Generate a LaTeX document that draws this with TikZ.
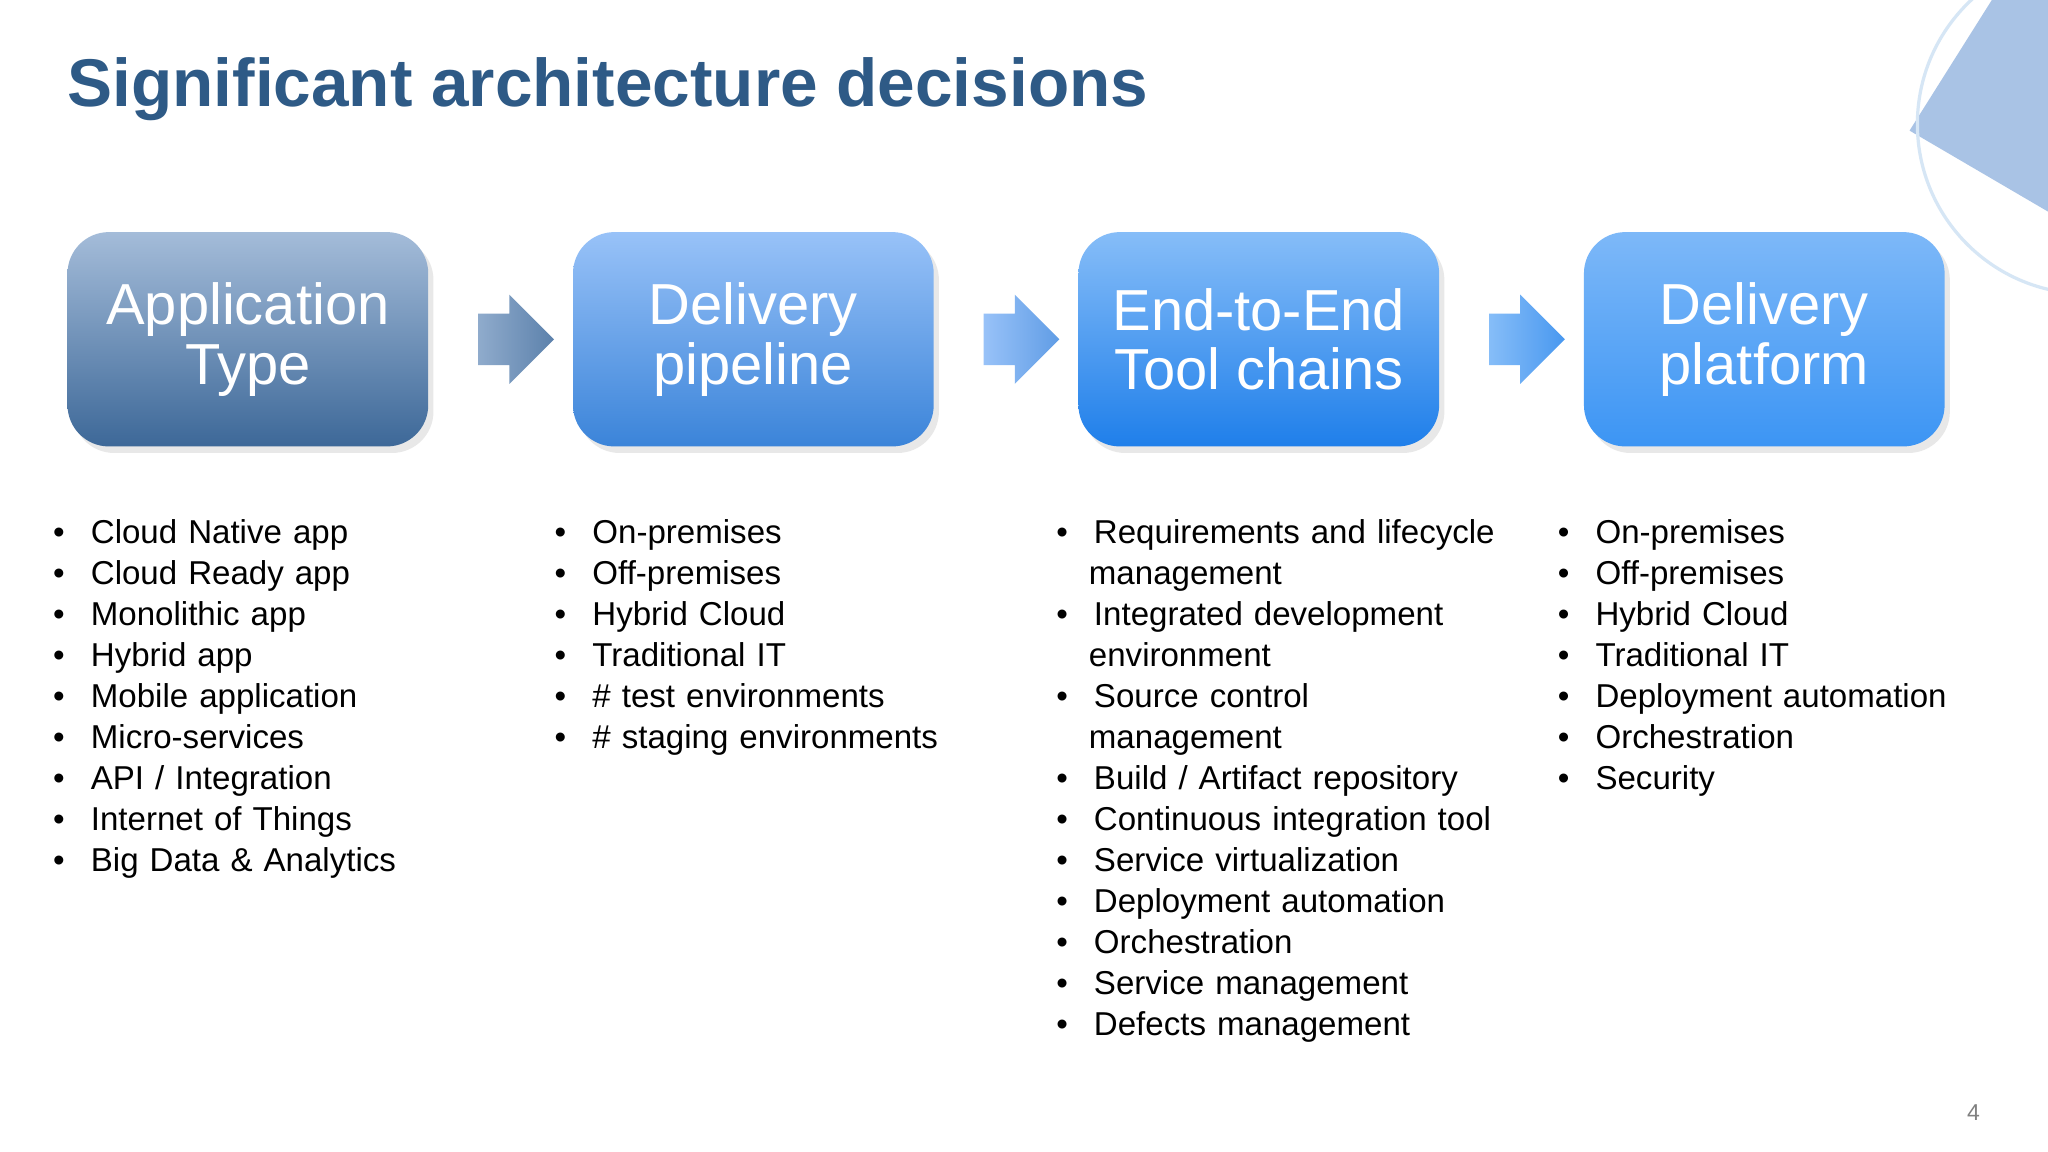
\documentclass[tikz,border=0pt]{standalone}
\usepackage{fontspec}
\setmainfont{Liberation Sans}
\usetikzlibrary{shapes.arrows,shadows}
\definecolor{titleblue}{HTML}{2E5A86}
\definecolor{aT}{HTML}{A4BCD9}\definecolor{aB}{HTML}{3D6898}
\definecolor{bT}{HTML}{98C2F8}\definecolor{bB}{HTML}{3B84D9}
\definecolor{cT}{HTML}{86BDF8}\definecolor{cB}{HTML}{1F7FEA}
\definecolor{dT}{HTML}{7DB8F8}\definecolor{dB}{HTML}{3C95F4}
\definecolor{triC}{HTML}{A9C3E5}\definecolor{cirC}{HTML}{D6E6F5}
\tikzset{
  box/.style={rounded corners=9pt,minimum width=2.76cm,minimum height=1.64cm,anchor=north west,text=white,align=center,font=\fontsize{12.6}{13}\selectfont,inner sep=0pt,drop shadow={opacity=0.18,shadow xshift=0.04cm,shadow yshift=-0.05cm}},
  arr/.style={single arrow,minimum height=0.58cm,inner xsep=0pt,inner ysep=0.19cm,single arrow head extend=0.145cm,single arrow head indent=0pt,anchor=center},
  lst/.style={anchor=north west,inner sep=0pt,font=\fontsize{7.2}{8.93}\selectfont,align=left,text width=#1},
}
\newcommand{\bl}{\item}
\begin{document}
\begin{tikzpicture}[x=0.01cm,y=-0.01cm]
\useasboundingbox (0,0) rectangle (1568,882);
\fill[white] (0,0) rectangle (1568,882);
\begin{scope}
\clip (0,0) rectangle (1568,882);
\fill[triC] (1525,0) -- (1568,0) -- (1568,162) -- (1462,100) -- cycle;
\draw[cirC,line width=0.7pt] (1598,95) circle (130);
\end{scope}
\node[anchor=west,text=titleblue,font=\fontsize{14.7}{16}\selectfont\bfseries,inner sep=0pt] (title) at (51,68) {Significant architecture decisions};
\node[box,top color=aT,bottom color=aB] (b1) at (51,177) {Application\\Type};
\node[box,top color=bT,bottom color=bB] (b2) at (438,177) {Delivery\\pipeline};
\node[box,top color=cT,bottom color=cB] (b3) at (825,177) {End-to-End\\Tool chains};
\node[box,top color=dT,bottom color=dB] (b4) at (1212,177) {Delivery\\platform};
\path (b1.east) -- (b2.west) node[midway,xshift=0.02cm,arr,left color=aT!80!aB,right color=aB!70!aT] (a1) {};
\path (b2.east) -- (b3.west) node[midway,xshift=0.02cm,arr,left color=bT,right color=bB!60!bT] (a2) {};
\path (b3.east) -- (b4.west) node[midway,xshift=0.02cm,arr,left color=cT,right color=cB!60!cT] (a3) {};
\newcommand{\mylist}[3]{%
 \node[lst=#2] at (#1) {\begin{list}{\textbullet}{\leftmargin=0.27cm\labelwidth=0.05cm\labelsep=0.2cm\itemsep=0pt\parsep=0pt\topsep=0pt}#3\end{list}};}
\mylist{38,384}{3.4cm}{\bl Cloud Native app\bl Cloud Ready app\bl Monolithic app\bl Hybrid app\bl Mobile application\bl Micro-services\bl API / Integration\bl Internet of Things\bl Big Data \& Analytics}
\mylist{422,384}{3.4cm}{\bl On-premises\bl Off-premises\bl Hybrid Cloud\bl Traditional IT\bl \# test environments\bl \# staging environments}
\mylist{806,384}{3.45cm}{\bl Requirements and lifecycle management\bl Integrated development environment\bl Source control management\bl Build / Artifact repository\bl Continuous integration tool\bl Service virtualization\bl Deployment automation\bl Orchestration\bl Service management\bl Defects management}
\mylist{1190,384}{3.4cm}{\bl On-premises\bl Off-premises\bl Hybrid Cloud\bl Traditional IT\bl Deployment automation\bl Orchestration\bl Security}
\node[text=gray,font=\fontsize{5}{6}\selectfont,inner sep=0pt] (pg) at (1511,852) {4};
\end{tikzpicture}
\end{document}
